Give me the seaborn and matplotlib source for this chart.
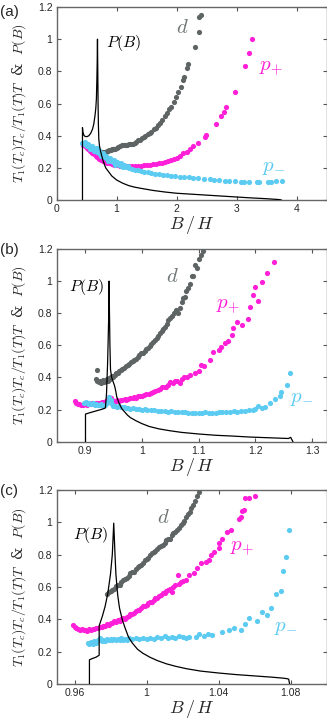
import numpy as np
import pandas as pd
import matplotlib
matplotlib.use("Agg")
import matplotlib.pyplot as plt
import seaborn as sns

# ---------------- data ----------------
# Panel (a)
a_PB_B = [0.433,0.433,0.44,0.46,0.48,0.51,0.54,0.57,0.60,0.62,0.64,0.655,0.665,0.673,0.678,0.683,0.688,0.693,0.698,0.705,0.715,0.73,0.75,0.78,0.82,0.87,0.92,1.0,1.1,1.2,1.3,1.4,1.6,1.8,2.0,2.3,2.6,2.9,3.2,3.5,3.7,3.75]
a_PB_v = [0,0.45,0.42,0.40,0.395,0.394,0.40,0.415,0.44,0.47,0.52,0.57,0.63,0.75,0.85,1.0,0.80,0.60,0.47,0.38,0.34,0.31,0.28,0.24,0.20,0.175,0.15,0.125,0.105,0.09,0.08,0.073,0.06,0.05,0.042,0.035,0.028,0.021,0.014,0.008,0.003,0.0]

a_d_B = [0.76,0.78,0.80,0.82,0.84,0.86,0.88,0.90,0.92,0.94,0.96,0.98,1.00,1.03,1.06,1.09,1.12,1.15,1.18,1.21,1.24,1.27,1.30,1.33,1.36,1.39,1.42,1.45,1.48,1.52,1.55,1.58,1.62,1.65,1.69,1.72,1.76,1.80,1.84,1.88,1.91,1.95,1.99,2.03,2.07,2.11,2.13,2.17,2.19,2.30,2.38,2.38,2.40]
a_d_v = [0.30,0.30,0.30,0.30,0.305,0.305,0.31,0.31,0.315,0.315,0.32,0.32,0.325,0.33,0.335,0.34,0.34,0.345,0.345,0.35,0.35,0.35,0.355,0.36,0.37,0.375,0.385,0.39,0.40,0.41,0.415,0.425,0.44,0.45,0.465,0.48,0.50,0.52,0.54,0.565,0.58,0.61,0.64,0.67,0.70,0.746,0.767,0.82,0.844,0.953,1.047,1.14,1.15]

a_pp_B = [0.44,0.47,0.50,0.53,0.56,0.59,0.62,0.65,0.68,0.71,0.74,0.77,0.80,0.84,0.88,0.92,0.96,1.00,1.05,1.10,1.15,1.20,1.25,1.30,1.35,1.40,1.45,1.50,1.55,1.60,1.65,1.70,1.75,1.80,1.85,1.90,1.95,2.00,2.05,2.11,2.17,2.22,2.28,2.36,2.47,2.49,2.66,2.74,2.79,2.83,2.97,3.14,3.20,3.26]
a_pp_v = [0.345,0.335,0.325,0.315,0.305,0.295,0.285,0.275,0.265,0.258,0.25,0.243,0.237,0.232,0.227,0.222,0.219,0.216,0.213,0.211,0.21,0.21,0.21,0.211,0.212,0.214,0.216,0.218,0.22,0.222,0.226,0.229,0.233,0.237,0.243,0.25,0.256,0.264,0.273,0.291,0.30,0.316,0.336,0.357,0.39,0.404,0.473,0.522,0.545,0.576,0.674,0.833,0.912,1.0]

a_pm_B = [0.43,0.46,0.49,0.52,0.55,0.58,0.61,0.64,0.67,0.70,0.73,0.76,0.79,0.82,0.85,0.88,0.91,0.94,0.97,1.00,1.04,1.08,1.12,1.16,1.20,1.25,1.30,1.35,1.40,1.46,1.52,1.58,1.64,1.70,1.77,1.84,1.91,1.98,2.05,2.12,2.20,2.28,2.36,2.45,2.55,2.62,2.70,2.80,2.87,2.98,3.07,3.12,3.20,3.34,3.37,3.52,3.57,3.65,3.76,
          0.47,0.53,0.59,0.65,0.68,0.71,0.77,0.83,0.89,0.95,1.01,1.07,1.13,1.19,0.50,0.56,0.62,0.74,0.86,0.98,1.10]
a_pm_v = [0.355,0.35,0.343,0.336,0.33,0.323,0.316,0.31,0.30,0.292,0.284,0.276,0.268,0.261,0.254,0.248,0.242,0.236,0.231,0.226,0.22,0.214,0.209,0.204,0.199,0.194,0.189,0.184,0.18,0.176,0.172,0.168,0.164,0.161,0.158,0.155,0.152,0.149,0.146,0.143,0.14,0.138,0.136,0.133,0.13,0.127,0.125,0.12,0.118,0.116,0.114,0.114,0.114,0.114,0.114,0.115,0.115,0.117,0.12,
          0.36,0.348,0.336,0.322,0.325,0.31,0.29,0.274,0.26,0.248,0.238,0.228,0.22,0.212,0.333,0.32,0.305,0.274,0.244,0.22,0.203]

# Panel (b)
b_PB_B = [0.901,0.901,0.91,0.92,0.93,0.936,0.938,0.940,0.942,0.9425,0.943,0.944,0.945,0.947,0.950,0.952,0.954,0.956,0.96,0.965,0.97,0.975,0.98,0.99,1.0,1.013,1.03,1.05,1.07,1.1,1.13,1.16,1.19,1.22,1.25,1.258,1.262,1.266]
b_PB_v = [0,0.172,0.182,0.192,0.202,0.21,0.3,0.5,0.8,1.0,0.85,0.6,0.45,0.40,0.37,0.35,0.32,0.28,0.24,0.205,0.185,0.165,0.15,0.13,0.113,0.095,0.08,0.068,0.058,0.048,0.04,0.035,0.029,0.025,0.021,0.02,0.027,0.0]

b_d_B = [0.922,0.92,0.921,0.924,0.926,0.928,0.93,0.932,0.934,0.936,0.938,0.94,0.942,0.944,0.946,0.948,0.95,0.953,0.955,0.958,0.96,0.963,0.966,0.969,0.972,0.975,0.978,0.981,0.984,0.987,0.99,0.993,0.996,0.999,1.002,1.005,1.008,1.011,1.014,1.017,1.02,1.023,1.026,1.029,1.032,1.035,1.038,1.041,1.044,1.047,1.05,1.053,1.056,1.06,1.063,1.067,1.07,1.073,1.076,1.078,1.081,1.084,1.088,1.09,1.093,1.097,1.1,1.105,1.108]
b_d_v = [0.446,0.39,0.375,0.37,0.38,0.365,0.372,0.385,0.37,0.378,0.39,0.38,0.395,0.388,0.40,0.41,0.405,0.415,0.43,0.425,0.44,0.445,0.455,0.46,0.47,0.475,0.485,0.495,0.5,0.51,0.515,0.53,0.54,0.55,0.555,0.565,0.575,0.585,0.596,0.61,0.62,0.635,0.645,0.66,0.675,0.69,0.70,0.715,0.73,0.755,0.77,0.785,0.80,0.82,0.80,0.83,0.87,0.893,0.90,0.94,0.955,0.985,1.03,1.03,1.10,1.08,1.14,1.16,1.19]

b_pp_B = [0.882,0.884,0.887,0.89,0.893,0.896,0.9,0.903,0.906,0.91,0.913,0.916,0.92,0.923,0.927,0.93,0.934,0.937,0.94,0.943,0.945,0.948,0.95,0.953,0.956,0.96,0.963,0.966,0.97,0.973,0.976,0.98,0.984,0.987,0.99,0.994,0.997,1.0,1.004,1.008,1.012,1.016,1.02,1.024,1.028,1.032,1.036,1.04,1.043,1.047,1.05,1.055,1.058,1.062,1.067,1.07,1.074,1.079,1.085,1.093,1.1,1.105,1.11,1.12,1.126,1.135,1.14,1.146,1.152,1.158,1.161,1.167,1.176,1.187,1.19,1.196,1.199,1.205,1.211,1.221,1.233]
b_pp_v = [0.253,0.24,0.235,0.232,0.228,0.23,0.232,0.228,0.235,0.232,0.238,0.235,0.24,0.238,0.243,0.245,0.25,0.255,0.265,0.28,0.27,0.26,0.255,0.25,0.258,0.255,0.26,0.262,0.265,0.26,0.268,0.27,0.272,0.278,0.275,0.283,0.287,0.285,0.292,0.296,0.30,0.305,0.31,0.318,0.322,0.33,0.338,0.34,0.343,0.355,0.37,0.365,0.375,0.38,0.364,0.39,0.40,0.405,0.415,0.426,0.44,0.478,0.47,0.509,0.56,0.57,0.59,0.613,0.63,0.664,0.706,0.747,0.727,0.764,0.84,0.913,0.961,0.878,0.996,1.05,1.12]

b_pm_B = [0.899,0.902,0.905,0.908,0.911,0.914,0.917,0.92,0.923,0.926,0.929,0.932,0.935,0.938,0.941,0.943,0.945,0.947,0.95,0.953,0.956,0.96,0.964,0.968,0.972,0.976,0.98,0.985,0.99,0.995,1.0,1.005,1.01,1.016,1.022,1.028,1.034,1.04,1.046,1.052,1.058,1.064,1.07,1.076,1.082,1.088,1.094,1.1,1.106,1.112,1.118,1.124,1.13,1.136,1.142,1.148,1.155,1.162,1.168,1.175,1.182,1.188,1.195,1.2,1.205,1.212,1.217,1.226,1.234,1.243,1.245,1.256,1.261]
b_pm_v = [0.239,0.245,0.235,0.24,0.232,0.238,0.228,0.235,0.23,0.226,0.233,0.225,0.23,0.24,0.255,0.28,0.26,0.235,0.225,0.222,0.218,0.22,0.214,0.216,0.21,0.212,0.206,0.208,0.203,0.204,0.2,0.201,0.198,0.195,0.196,0.192,0.193,0.19,0.188,0.189,0.185,0.186,0.182,0.183,0.18,0.18,0.177,0.18,0.178,0.182,0.178,0.181,0.178,0.183,0.185,0.183,0.187,0.19,0.188,0.193,0.192,0.197,0.198,0.205,0.222,0.207,0.215,0.239,0.264,0.285,0.311,0.353,0.426]

# Panel (c)
c_PB_B = [0.9683,0.9683,0.970,0.972,0.9737,0.9737,0.9755,0.977,0.9785,0.980,0.981,0.9818,0.9825,0.983,0.984,0.985,0.9865,0.988,0.990,0.992,0.995,0.998,1.002,1.006,1.011,1.016,1.022,1.03,1.04,1.05,1.06,1.07,1.076,1.078,1.079,1.0795]
c_PB_v = [0,0.15,0.158,0.166,0.178,0.36,0.42,0.48,0.56,0.68,0.8,0.995,0.8,0.68,0.55,0.47,0.40,0.35,0.29,0.255,0.215,0.19,0.165,0.145,0.125,0.11,0.095,0.08,0.068,0.058,0.05,0.042,0.036,0.033,0.03,0.0]

c_d_B = [0.978,0.98,0.982,0.984,0.986,0.988,0.990,0.992,0.994,0.996,0.998,1.0,1.002,1.004,1.006,1.008,1.010,1.012,1.014,1.016,1.018,1.020,1.022,1.024,1.026,1.028,1.029,
         0.979,0.981,0.983,0.985,0.987,0.989,0.991,0.993,0.995,0.997,0.999,1.001,1.003,1.005,1.007,1.009,1.011,1.013,1.015,1.017,1.019,1.021,1.023,1.025,1.027]
c_d_v = [0.555,0.575,0.59,0.61,0.63,0.65,0.67,0.69,0.71,0.73,0.75,0.775,0.795,0.815,0.835,0.855,0.875,0.895,0.92,0.94,0.965,0.995,1.03,1.065,1.11,1.16,1.19,
         0.57,0.58,0.605,0.615,0.645,0.655,0.685,0.695,0.725,0.735,0.765,0.78,0.81,0.82,0.85,0.86,0.89,0.90,0.935,0.95,0.985,1.01,1.05,1.09,1.13]

c_pp_B = [0.9594,0.96,0.961,0.962,0.963,0.964,0.965,0.966,0.967,0.968,0.969,0.970,0.971,0.972,0.973,0.974,0.975,0.976,0.977,0.978,0.979,0.980,0.981,0.982,0.983,0.984,0.985,0.986,0.987,0.988,0.989,0.990,0.991,0.992,0.993,0.994,0.995,0.996,0.997,0.998,0.999,1.0,1.001,1.002,1.003,1.004,1.005,1.006,1.007,1.008,1.009,1.01,1.011,1.012,1.013,1.014,1.015,1.016,1.0176,1.018,1.019,1.02,1.0218,1.0237,1.0264,1.0283,1.0301,1.0329,1.0348,1.0357,1.0375,1.0403,1.04,1.042,1.0449,1.0467,1.0513,1.0523,1.053,1.0541,1.055,1.0569,1.0602]
c_pp_v = [0.366,0.355,0.345,0.338,0.334,0.34,0.332,0.336,0.33,0.338,0.335,0.342,0.34,0.348,0.345,0.355,0.352,0.36,0.358,0.37,0.365,0.378,0.375,0.39,0.385,0.395,0.39,0.40,0.41,0.405,0.415,0.42,0.43,0.435,0.44,0.45,0.455,0.46,0.47,0.48,0.485,0.49,0.5,0.505,0.51,0.52,0.53,0.535,0.545,0.55,0.56,0.565,0.575,0.58,0.59,0.57,0.6,0.61,0.675,0.62,0.63,0.64,0.643,0.674,0.684,0.715,0.746,0.757,0.767,0.798,0.818,0.839,0.87,0.9,0.94,0.952,1.02,1.035,1.07,1.076,1.148,1.148,1.165]

c_pm_B = [0.9674,0.968,0.969,0.970,0.971,0.972,0.973,0.974,0.975,0.976,0.977,0.978,0.979,0.980,0.981,0.982,0.983,0.984,0.985,0.986,0.987,0.988,0.989,0.990,0.992,0.994,0.996,0.998,1.0,1.002,1.004,1.006,1.008,1.01,1.012,1.014,1.016,1.018,1.02,1.022,1.0237,1.0274,1.029,1.032,1.034,1.0366,1.0421,1.0458,1.0486,1.0523,1.055,1.0569,1.0615,1.0643,1.067,1.0694,1.0717,1.0748,1.0759,1.0775,1.079]
c_pm_v = [0.253,0.245,0.26,0.25,0.265,0.255,0.27,0.283,0.265,0.275,0.268,0.28,0.27,0.278,0.272,0.28,0.27,0.278,0.275,0.282,0.272,0.28,0.275,0.283,0.276,0.282,0.278,0.285,0.278,0.286,0.28,0.288,0.282,0.3,0.284,0.29,0.285,0.297,0.29,0.283,0.288,0.293,0.31,0.3,0.31,0.303,0.324,0.334,0.344,0.334,0.37,0.406,0.39,0.447,0.427,0.468,0.555,0.575,0.699,0.787,0.952]

x_ticks = {
    "a": [0, 1, 2, 3, 4],
    "b": [0.9, 1.0, 1.1, 1.2, 1.3],
    "c": [0.96, 1.0, 1.04, 1.08],
}
x_ticklabels = {
    "a": ["0", "1", "2", "3", "4"],
    "b": ["0.9", "1", "1.1", "1.2", "1.3"],
    "c": ["0.96", "1", "1.04", "1.08"],
}
y_ticks = [0, 0.2, 0.4, 0.6, 0.8, 1.0, 1.2]
y_ticklabels = ["0", "0.2", "0.4", "0.6", "0.8", "1", "1.2"]

# ---------------- style ----------------
sns.set_style("ticks")
plt.rcParams["font.family"] = ["Liberation Sans", "DejaVu Sans"]
plt.rcParams["mathtext.fontset"] = "cm"

C_D = "#5e6363"
C_PP = "#ff1fd8"
C_PM = "#5ccbf2"
C_DTXT = "#6f7575"

W, H = 327, 722
fig = plt.figure(figsize=(W / 100, H / 100), dpi=100)

def fx(px):
    return px / W

def fy(py):
    return 1 - py / H

panels = [
    dict(key="a", top=7, bot=200, xlim=(0, 4.5),
         PB=(a_PB_B, a_PB_v), d=(a_d_B, a_d_v), pp=(a_pp_B, a_pp_v), pm=(a_pm_B, a_pm_v),
         lab_P=(0.83, 0.975), lab_d=(2.0, 1.07), lab_pp=(3.37, 0.82), lab_pm=(3.42, 0.2),
         tag_y=12),
    dict(key="b", top=249, bot=441.7, xlim=(0.85, 1.325),
         PB=(b_PB_B, b_PB_v), d=(b_d_B, b_d_v), pp=(b_pp_B, b_pp_v), pm=(b_pm_B, b_pm_v),
         lab_P=(0.872, 0.965), lab_d=(1.042, 1.03), lab_pp=(1.131, 0.84), lab_pm=(1.26, 0.27),
         tag_y=250),
    dict(key="c", top=490, bot=684, xlim=(0.95, 1.1),
         PB=(c_PB_B, c_PB_v), d=(c_d_B, c_d_v), pp=(c_pp_B, c_pp_v), pm=(c_pm_B, c_pm_v),
         lab_P=(0.9589, 0.92), lab_d=(1.0056, 1.03), lab_pp=(1.0462, 0.84), lab_pm=(1.071, 0.35),
         tag_y=491),
]

left_px, right_px = 56.5, 326.5
for p in panels:
    ax = fig.add_axes([fx(left_px), fy(p["bot"]), fx(right_px - left_px), (p["bot"] - p["top"]) / H])
    for name, col in (("pp", C_PP), ("d", C_D), ("pm", C_PM)):
        df = pd.DataFrame({"B": p[name][0], "v": p[name][1]})
        sns.scatterplot(data=df, x="B", y="v", ax=ax, color=col, s=14, linewidth=0, zorder=3)
    dpb = pd.DataFrame({"B": p["PB"][0], "v": p["PB"][1]})
    sns.lineplot(data=dpb, x="B", y="v", ax=ax, color="black", lw=0.9, sort=False,
                 estimator=None, zorder=4)

    ax.set_xlim(*p["xlim"])
    ax.set_ylim(0, 1.2)
    ax.set_xticks(x_ticks[p["key"]])
    ax.set_xticklabels(x_ticklabels[p["key"]])
    ax.set_yticks(y_ticks)
    ax.set_yticklabels(y_ticklabels)
    ax.tick_params(direction="in", length=3, width=0.8, color="#555555", labelsize=7.5,
                   top=True, right=True, pad=3)
    for s in ax.spines.values():
        s.set_visible(True)
        s.set_color("#666666")
        s.set_linewidth(1.0)

    ax.set_xlabel(r"$B\,/\,H$", fontsize=13, labelpad=0)
    ax.set_ylabel(r"$T_1(T_c)T_c/T_1(T)T$  &  $P(B)$", fontsize=10, labelpad=2,
                  family=["DejaVu Serif"])
    ax.yaxis.set_label_coords(-0.105, 0.5)

    ax.text(*p["lab_P"], r"$P(B)$", fontsize=11.5, color="black", ha="left", va="center")
    ax.text(*p["lab_d"], r"$d$", fontsize=15, color=C_DTXT, ha="left", va="center")
    ax.text(*p["lab_pp"], r"$p_{+}$", fontsize=15, color=C_PP, ha="left", va="center")
    ax.text(*p["lab_pm"], r"$p_{-}$", fontsize=15, color=C_PM, ha="left", va="center")

    fig.text(fx(0), fy(p["tag_y"]), "(" + p["key"] + ")", fontsize=11, ha="left", va="center")

fig.savefig("out.png", dpi=100)
